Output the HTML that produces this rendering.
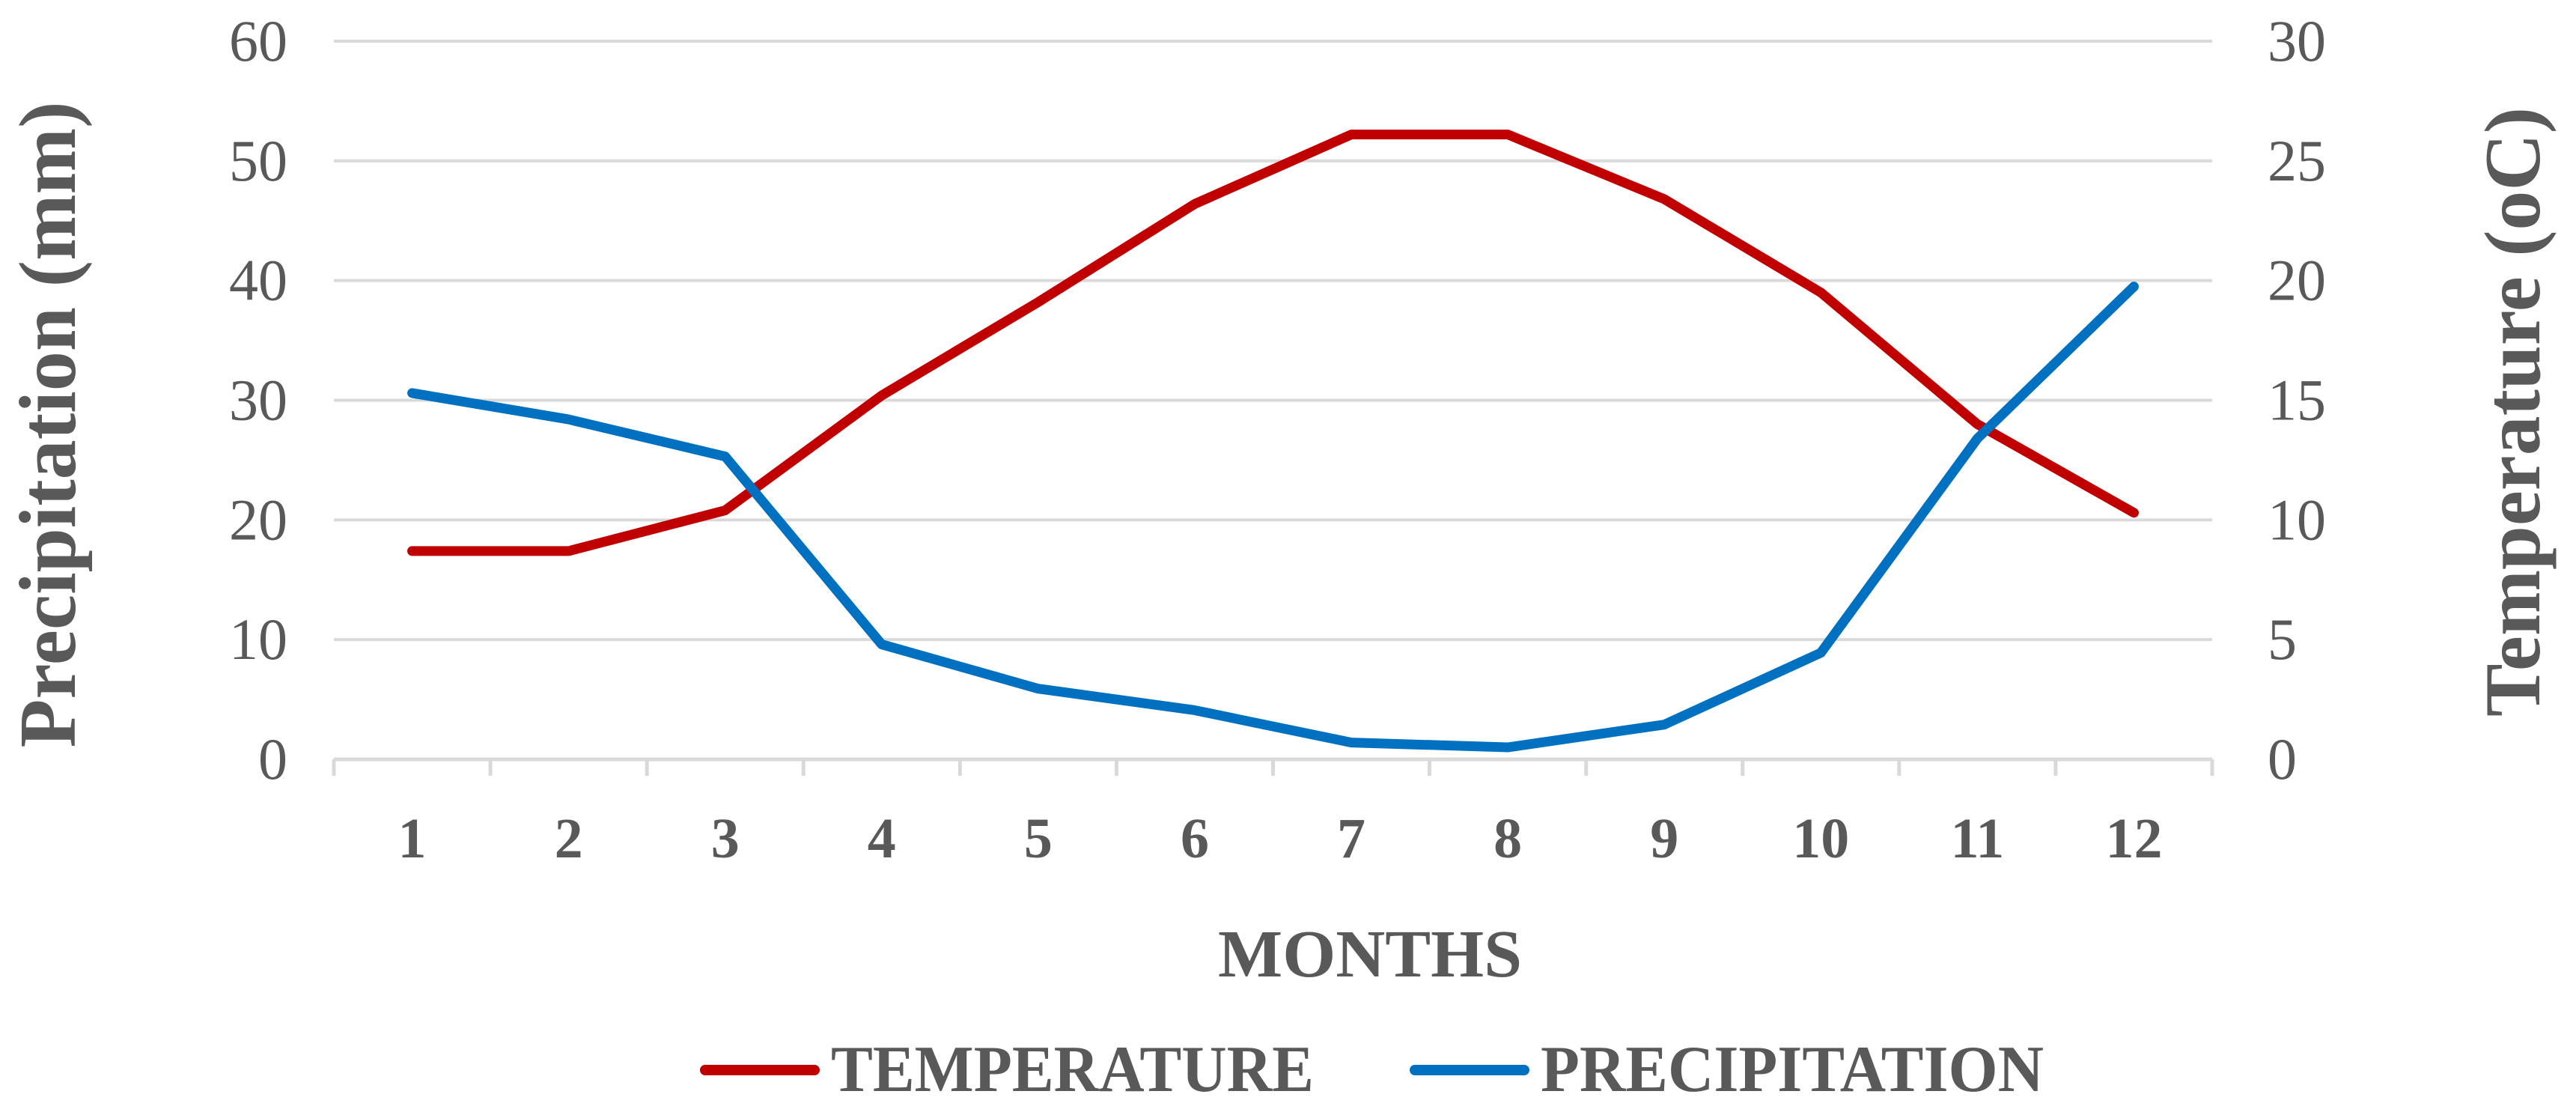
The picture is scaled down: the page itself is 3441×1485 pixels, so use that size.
<!DOCTYPE html>
<html><head><meta charset="utf-8"><style>
html,body{margin:0;padding:0;background:#fff}
svg{display:block}
text{font-family:"Liberation Serif",serif;fill:#595959}
</style></head><body>
<svg id="chart" width="3441" height="1485" viewBox="0 0 3441 1485" xmlns="http://www.w3.org/2000/svg">
<g id="grid"></g>
<g id="ticks"></g>
<g id="lines"></g>
<g id="labels"></g>
<text transform="translate(100,567) rotate(-90)" text-anchor="middle" font-size="108" font-weight="bold" textLength="863" lengthAdjust="spacingAndGlyphs">Precipitation (mm)</text>
<text transform="translate(3392,550) rotate(-90)" text-anchor="middle" font-size="106" font-weight="bold" textLength="814" lengthAdjust="spacingAndGlyphs">Temperature (oC)</text>
<text x="1830" y="1304" text-anchor="middle" font-size="90" font-weight="bold" textLength="406" lengthAdjust="spacingAndGlyphs">MONTHS</text>
<g>
<g>
<line x1="942" y1="1429" x2="1088" y2="1429" stroke="#c00000" stroke-width="14" stroke-linecap="round"/>
<text x="1110" y="1457" font-size="88" font-weight="bold" textLength="645" lengthAdjust="spacingAndGlyphs">TEMPERATURE</text>
</g>
<g>
<line x1="1890" y1="1429" x2="2036" y2="1429" stroke="#0070c0" stroke-width="14" stroke-linecap="round"/>
<text x="2058" y="1457" font-size="88" font-weight="bold" textLength="672" lengthAdjust="spacingAndGlyphs">PRECIPITATION</text>
</g>
</g>
</svg>
<script>
const months = ["1","2","3","4","5","6","7","8","9","10","11","12"];
const temperature = [8.7,8.7,10.4,15.2,19.1,23.2,26.1,26.1,23.4,19.5,14.0,10.3];
const precipitation = [30.6,28.4,25.3,9.6,5.9,4.1,1.4,1.0,2.9,8.9,26.8,39.5];
const leftTicks = [0,10,20,30,40,50,60];
const rightTicks = [0,5,10,15,20,25,30];

const NS="http://www.w3.org/2000/svg";
const L=446,R=2955,T=55,B=1014;
const bw=(R-L)/months.length;
function xPos(i){return L+bw*(i+0.5);}
function yLeft(v){return B-(v/60)*(B-T);}
function yRight(v){return B-(v/30)*(B-T);}
function mk(tag,attrs,parent){const e=document.createElementNS(NS,tag);for(const k in attrs)e.setAttribute(k,attrs[k]);parent.appendChild(e);return e;}
const grid=document.getElementById('grid'),ticks=document.getElementById('ticks'),lines=document.getElementById('lines'),labels=document.getElementById('labels');

leftTicks.forEach((v,i)=>{
  const y=yLeft(v);
  const g=mk('line',{x1:L,x2:R,y1:y,y2:y,stroke:'#d9d9d9','stroke-width':v===0?5:4},grid);
  
  
  const t=mk('text',{x:384,y:y+26,'text-anchor':'end','font-size':78},labels);
  t.textContent=v;
  
  
});
rightTicks.forEach(v=>{
  const y=yRight(v);
  const t=mk('text',{x:3029,y:y+26,'font-size':78},labels);
  t.textContent=v;
  
  
});
for(let i=0;i<=months.length;i++){
  const x=L+bw*i;
  const tk=mk('line',{x1:x,x2:x,y1:B,y2:B+22,stroke:'#d9d9d9','stroke-width':5},ticks);
  
  
}
months.forEach((m,i)=>{
  const t=mk('text',{x:xPos(i),y:1145,'text-anchor':'middle','font-size':76,'font-weight':'bold'},labels);
  t.textContent=m;
  
  
});
const tp=mk('polyline',{points:temperature.map((v,i)=>xPos(i)+','+yRight(v)).join(' '),fill:'none',stroke:'#c00000','stroke-width':13,'stroke-linejoin':'round','stroke-linecap':'round'},lines);


const pp=mk('polyline',{points:precipitation.map((v,i)=>xPos(i)+','+yLeft(v)).join(' '),fill:'none',stroke:'#0070c0','stroke-width':13,'stroke-linejoin':'round','stroke-linecap':'round'},lines);


</script>
</body></html>
